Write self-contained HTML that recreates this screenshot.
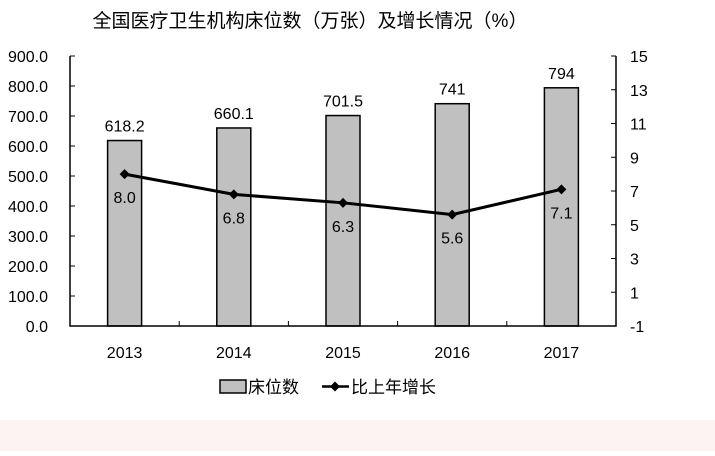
<!DOCTYPE html>
<html><head><meta charset="utf-8"><style>
body{margin:0;background:#fff;width:715px;height:451px;overflow:hidden;font-family:"Liberation Sans","Noto Sans CJK SC",sans-serif;}
</style></head><body>
<svg width="715" height="451" xmlns="http://www.w3.org/2000/svg">
<rect x="0" y="420" width="715" height="31" fill="#fdf3f3"/>
<text x="310" y="27" font-size="19" text-anchor="middle" fill="#000" font-family="Liberation Sans, Noto Sans CJK SC, sans-serif">全国医疗卫生机构床位数（万张）及增长情况（%）</text>
<g id="plot"></g>
<g>
<rect x="220" y="380" width="26" height="13" fill="#c0c0c0" stroke="#000" stroke-width="1.5"/>
<text x="248" y="393" font-size="17">床位数</text>
<line x1="322" y1="386.5" x2="349" y2="386.5" stroke="#000" stroke-width="2.5"/>
<path d="M335 381.5 L340 386.5 L335 391.5 L330 386.5Z" fill="#000"/>
<text x="351" y="393" font-size="17">比上年增长</text>
</g>
</svg>
<script>
const categories=["2013","2014","2015","2016","2017"];
const beds=[618.2,660.1,701.5,741,794];
const bedLabels=["618.2","660.1","701.5","741","794"];
const growth=[8.0,6.8,6.3,5.6,7.1];
const growthLabels=["8.0","6.8","6.3","5.6","7.1"];
const leftTicks=[0,100,200,300,400,500,600,700,800,900];
const rightTicks=[-1,1,3,5,7,9,11,13,15];
const NS="http://www.w3.org/2000/svg";
const g=document.getElementById('plot');
const X0=70,X1=616,Y0=326,Y1=56;
const yL=v=>Y0-(v/900)*(Y0-Y1);
const yR=v=>Y0-((v+1)/16)*(Y0-Y1);
const cw=(X1-X0)/categories.length;
const xC=i=>X0+cw*(i+0.5);
function mk(tag,attrs){const e=document.createElementNS(NS,tag);for(const k in attrs)e.setAttribute(k,attrs[k]);g.appendChild(e);return e;}
// bars
beds.forEach((v,i)=>{
 const b=mk('rect',{x:xC(i)-17,y:yL(v),width:34,height:Y0-yL(v),fill:'#c0c0c0',stroke:'#000','stroke-width':1.5});
 
 
 const t=mk('text',{x:xC(i),y:yL(v)-9,'font-size':16,'text-anchor':'middle'});t.textContent=bedLabels[i];
 
 
 const c=mk('text',{x:xC(i),y:Y0+32,'font-size':16,'text-anchor':'middle'});c.textContent=categories[i];
 
 
});
// axes
const ax=mk('path',{d:`M${X0} ${Y1}V${Y0}H${X1}V${Y1}`,fill:'none',stroke:'#000','stroke-width':1.5});


for(let i=1;i<categories.length;i++){const l=mk('line',{x1:X0+cw*i,x2:X0+cw*i,y1:Y0,y2:Y0-5,stroke:'#000'});
 
 }
leftTicks.forEach(v=>{
 const l=mk('line',{x1:X0,x2:X0+5,y1:yL(v),y2:yL(v),stroke:'#000'});
 
 
 const t=mk('text',{x:48,y:yL(v)+6,'font-size':16,'text-anchor':'end'});t.textContent=v.toFixed(1);
 
 
});
rightTicks.forEach(v=>{
 const l=mk('line',{x1:X1,x2:X1-5,y1:yR(v),y2:yR(v),stroke:'#000'});
 
 
 const t=mk('text',{x:630,y:yR(v)+6,'font-size':16});t.textContent=String(v);
 
 
});
// line
const ln=mk('polyline',{points:growth.map((v,i)=>xC(i)+','+yR(v)).join(' '),fill:'none',stroke:'#000','stroke-width':3});


growth.forEach((v,i)=>{
 const x=xC(i),y=yR(v);
 const m=mk('path',{d:`M${x} ${y-5}L${x+5} ${y}L${x} ${y+5}L${x-5} ${y}Z`,fill:'#000'});
 
 
 const t=mk('text',{x:x,y:y+29,'font-size':16,'text-anchor':'middle'});t.textContent=growthLabels[i];
 
 
});
</script>
</body></html>
